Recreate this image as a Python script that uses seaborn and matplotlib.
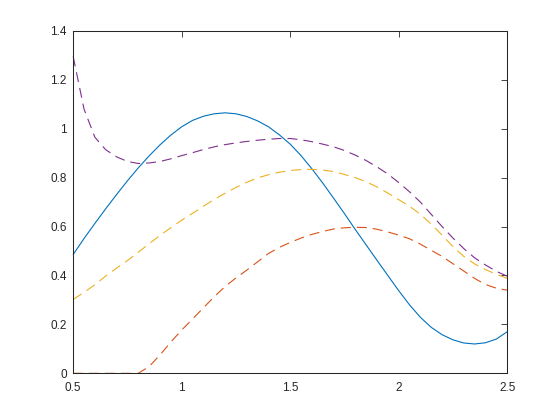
import matplotlib
matplotlib.use("Agg")
import matplotlib.pyplot as plt
import seaborn as sns
import numpy as np

# x grid (step 0.05)
x = np.round(np.arange(0.5, 2.5001, 0.05), 2)

# blue solid curve
y_blue = [0.486, 0.551, 0.613, 0.673, 0.731, 0.787, 0.840, 0.889, 0.934, 0.974,
          1.008, 1.034, 1.051, 1.061, 1.065, 1.061, 1.050, 1.032, 1.008, 0.975,
          0.937, 0.890, 0.836, 0.778, 0.716, 0.653, 0.588, 0.525, 0.462, 0.400,
          0.338, 0.280, 0.229, 0.188, 0.158, 0.137, 0.124, 0.120, 0.125, 0.140,
          0.170]
# orange dashed curve
y_orange = [0.0, 0.0, 0.0, 0.0, 0.0, 0.0, 0.0, 0.028, 0.075, 0.128,
            0.177, 0.222, 0.268, 0.313, 0.355, 0.390, 0.422, 0.456, 0.490, 0.515,
            0.535, 0.553, 0.568, 0.580, 0.590, 0.595, 0.597, 0.596, 0.589, 0.578,
            0.565, 0.550, 0.528, 0.503, 0.478, 0.448, 0.418, 0.388, 0.363, 0.348,
            0.340]
# yellow dashed curve
y_yellow = [0.302, 0.331, 0.362, 0.398, 0.430, 0.461, 0.495, 0.530, 0.564, 0.595,
            0.626, 0.654, 0.683, 0.711, 0.736, 0.760, 0.781, 0.799, 0.812, 0.822,
            0.829, 0.833, 0.834, 0.831, 0.825, 0.813, 0.800, 0.783, 0.762, 0.737,
            0.710, 0.683, 0.650, 0.610, 0.565, 0.518, 0.478, 0.447, 0.424, 0.405,
            0.388]
# purple dashed curve
y_purple = [1.295, 1.080, 0.965, 0.914, 0.885, 0.866, 0.858, 0.860, 0.866, 0.877,
            0.890, 0.902, 0.915, 0.926, 0.935, 0.942, 0.948, 0.953, 0.957, 0.960,
            0.960, 0.955, 0.947, 0.937, 0.926, 0.911, 0.892, 0.870, 0.844, 0.815,
            0.780, 0.742, 0.700, 0.650, 0.600, 0.553, 0.510, 0.472, 0.443, 0.417,
            0.397]

sns.set_style("white")
plt.rcParams['font.family'] = ['Liberation Sans', 'DejaVu Sans']

fig = plt.figure(figsize=(5.6, 4.01), dpi=100)
ax = fig.add_axes([0.1307, 0.069, 0.7750, 0.854])

lw = 0.8
kreska = (0, (9, 5.4))
sns.lineplot(x=x, y=y_blue, color='#0072BD', linewidth=lw, ax=ax, clip_on=False)
sns.lineplot(x=x, y=y_orange, color='#D95319', linewidth=lw, linestyle=kreska, ax=ax, clip_on=False)
sns.lineplot(x=x, y=y_yellow, color='#EDB120', linewidth=lw, linestyle=kreska, ax=ax, clip_on=False)
sns.lineplot(x=x, y=y_purple, color='#7E2F8E', linewidth=lw, linestyle=kreska, ax=ax, clip_on=False)

ax.set_xlim(0.5, 2.5)
ax.set_ylim(0, 1.4)
ax.set_xticks([0.5, 1, 1.5, 2, 2.5])
ax.set_xticklabels(['0.5', '1', '1.5', '2', '2.5'])
ax.set_yticks([0, 0.2, 0.4, 0.6, 0.8, 1, 1.2, 1.4])
ax.set_yticklabels(['0', '0.2', '0.4', '0.6', '0.8', '1', '1.2', '1.4'])

szary = '#262626'
for s in ax.spines.values():
    s.set_color(szary)
    s.set_linewidth(0.75)
ax.tick_params(direction='in', length=4, width=0.6, color=szary,
               labelcolor=szary, labelsize=8.5, top=True, right=True)
ax.tick_params(axis='x', pad=6.3)
ax.tick_params(axis='y', pad=4.7)
ax.set_xlabel('')
ax.set_ylabel('')

fig.savefig('out.png', dpi=100)
